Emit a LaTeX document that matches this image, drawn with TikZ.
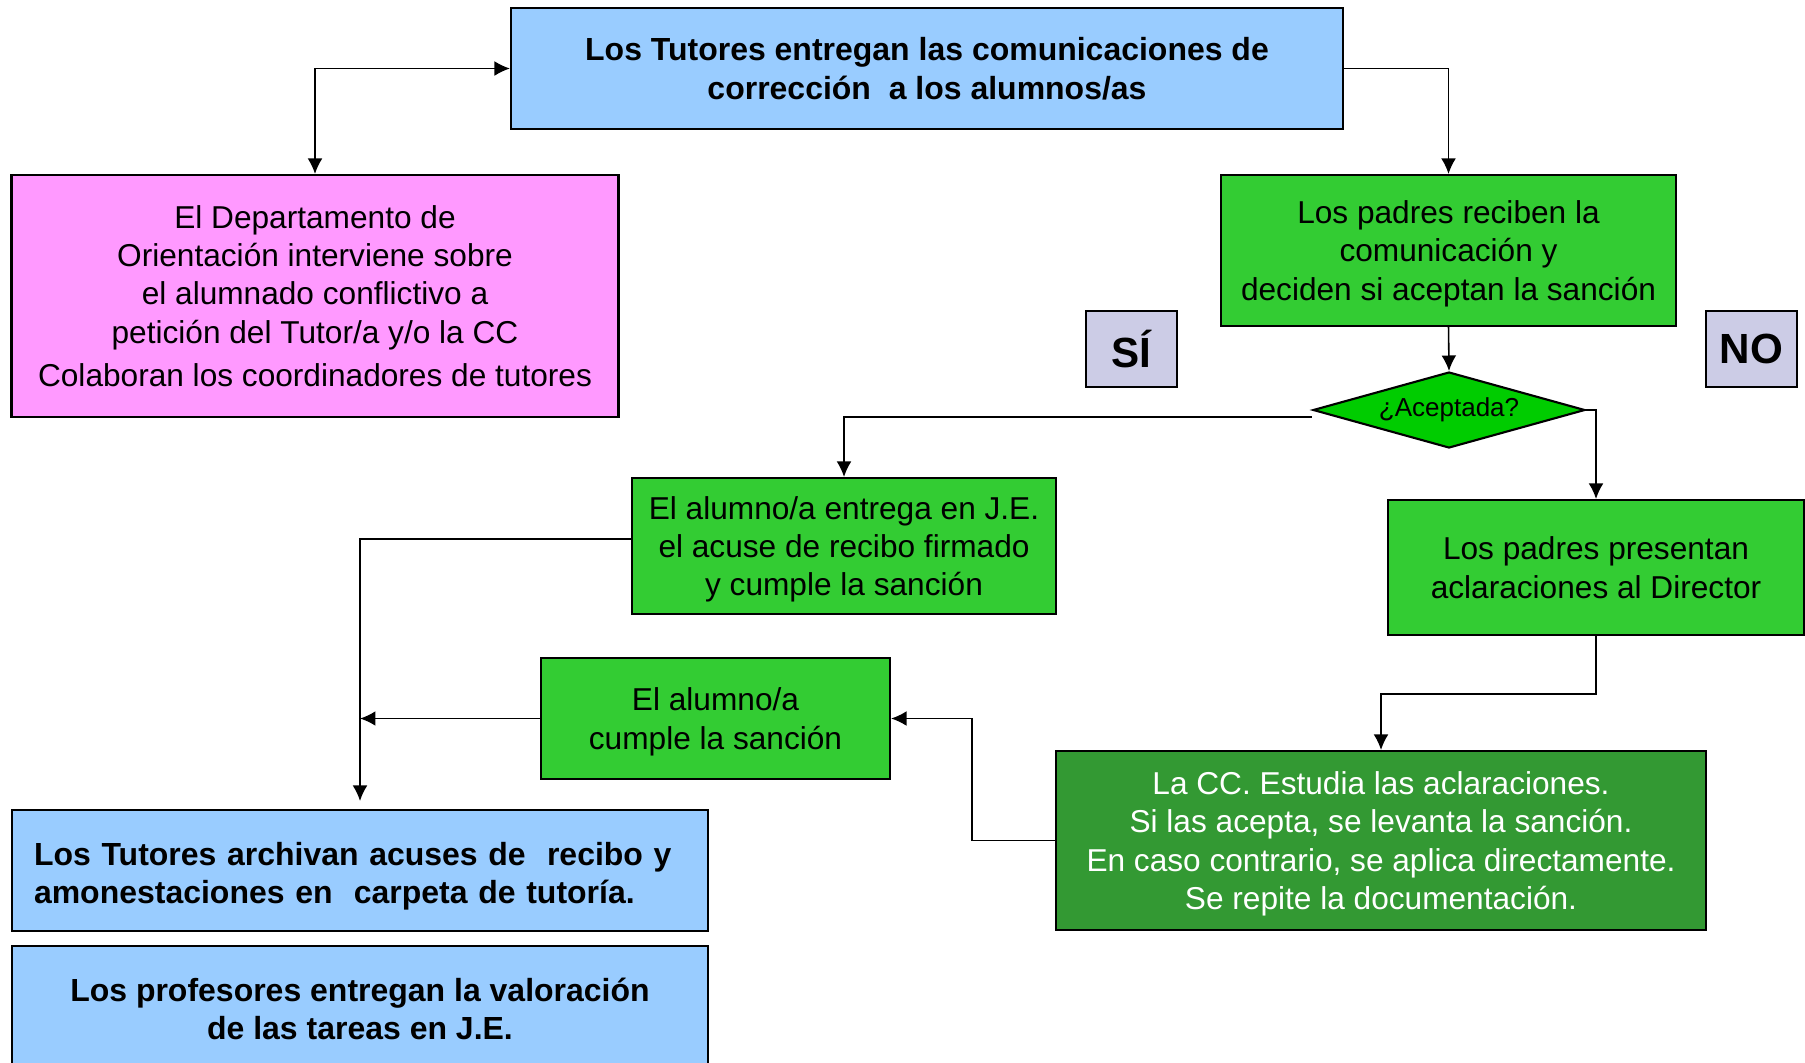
\documentclass[tikz,border=0pt]{standalone}
\usepackage{fontspec}
\setmainfont{Liberation Sans}
\usetikzlibrary{shapes.geometric,arrows.meta}
\definecolor{tutblue}{HTML}{99CCFF}
\definecolor{orientpink}{HTML}{FF99FF}
\definecolor{padgreen}{HTML}{33CC33}
\definecolor{acepgreen}{HTML}{00CC00}
\definecolor{ccgreen}{HTML}{339933}
\definecolor{silav}{HTML}{CCCCE6}
\tikzset{
  box/.style={draw,line width=0.6pt,inner sep=0pt,align=center,text depth=0pt,font=\fontsize{9}{10.9}\selectfont},
  boldbox/.style={box,font=\fontsize{9.1}{10.9}\selectfont\bfseries},
  tag/.style={draw,line width=0.6pt,fill=silav,minimum width=0.91cm,minimum height=0.76cm,font=\fontsize{12}{14}\selectfont\bfseries},
  conn/.style={line width=0.45pt,-{Latex[length=4.4pt,width=4.2pt]}}
}
\begin{document}
\begin{tikzpicture}
\useasboundingbox (0,0) rectangle (18.05,-10.62);
\node[boldbox,fill=tutblue,minimum width=8.32cm,minimum height=1.21cm] (tut) at (9.27,-0.685)
  {Los Tutores entregan las comunicaciones de\\corrección\ \ a los alumnos/as};
\node[box,fill=orientpink,minimum width=6.07cm,minimum height=2.42cm] (orient) at (3.15,-2.96)
  {El Departamento de\\Orientación interviene sobre\\el alumnado conflictivo a\\petición del Tutor/a y/o la CC\\[1.5pt]Colaboran los coordinadores de tutores};
\node[box,fill=padgreen,minimum width=4.55cm,minimum height=1.51cm] (padres) at (14.485,-2.505)
  {Los padres reciben la\\comunicación y\\deciden si aceptan la sanción};
\node[tag] (si) at (11.315,-3.49) {SÍ};
\node[tag] (no) at (17.515,-3.49) {NO};
\node[draw,line width=0.6pt,shape=diamond,aspect=3.58,fill=acepgreen,inner sep=0pt,minimum width=2.72cm,minimum height=0.76cm,font=\fontsize{7.4}{9}\selectfont] (acep) at (14.49,-4.10) {¿Aceptada?};
\node[box,fill=padgreen,minimum width=4.24cm,minimum height=1.36cm] (entrega) at (8.44,-5.46)
  {El alumno/a entrega en J.E.\\el acuse de recibo firmado\\y cumple la sanción};
\node[box,fill=padgreen,minimum width=4.16cm,minimum height=1.35cm] (pres) at (15.96,-5.675)
  {Los padres presentan\\aclaraciones al Director};
\node[box,fill=padgreen,minimum width=3.49cm,minimum height=1.21cm] (cumple) at (7.155,-7.185)
  {El alumno/a\\cumple la sanción};
\node[box,fill=ccgreen,text=white,minimum width=6.50cm,minimum height=1.79cm] (estudia) at (13.81,-8.405)
  {La CC. Estudia las aclaraciones.\\Si las acepta, se levanta la sanción.\\En caso contrario, se aplica directamente.\\Se repite la documentación.};
\node[boldbox,fill=tutblue,align=left,text width=6.52cm,text depth=9.5pt,inner xsep=0.22cm,minimum height=1.21cm] (archivan) at (3.6,-8.705)
  {Los Tutores archivan acuses de\ \ recibo y\\amonestaciones en\ \ carpeta de tutoría.};
\node[boldbox,fill=tutblue,minimum width=6.965cm,minimum height=1.26cm] (profes) at (3.6,-10.09)
  {Los profesores entregan la valoración\\de las tareas en J.E.};
\draw[conn,{Latex[length=4.4pt,width=4.2pt]}-{Latex[length=4.4pt,width=4.2pt]}] (orient.north) |- (tut.west);
\draw[conn] (tut.east) -| (padres.north);
\draw[conn] (padres.south) -- (acep.north);
\draw[conn] ([yshift=-0.07cm]acep.west) -| (entrega.north);
\draw[conn] (acep.east) -| (pres.north);
\draw[conn,shorten >=0.08cm] ([yshift=0.07cm]entrega.west) -| (archivan.north);
\draw[conn] (cumple.west) -- (cumple.west -| archivan.north);
\draw[conn] (pres.south) -- ++(0,-0.58) -| (estudia.north);
\draw[conn] (estudia.west) -- ++(-0.83,0) |- (cumple.east);
\end{tikzpicture}
\end{document}
